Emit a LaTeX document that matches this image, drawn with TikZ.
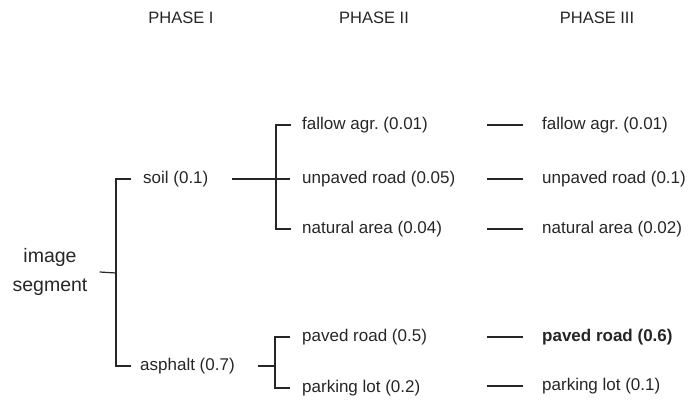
\documentclass[tikz,border=0pt]{standalone}
\usepackage{fontspec}
\setmainfont{Liberation Sans}
\usepackage{tikz}
\usetikzlibrary{positioning, calc}
\frenchspacing

\begin{document}
\begin{tikzpicture}[x=1pt, y=-1pt]
                \tikzstyle{lbl}=[anchor=west, inner sep=0pt, text=black!85, font=\fontsize{17}{20}\selectfont]
                \tikzstyle{head}=[inner sep=0pt, text=black!85, font=\fontsize{16.5}{18}\selectfont]
                \tikzstyle{conn}=[line width=1.2pt, black!85]
                \useasboundingbox (0,0) rectangle (691,403);
                
                % Headings
                \node[head] (ph1) at (181, 18) {PHASE I};
                \node[head] (ph2) at (374, 18) {PHASE II};
                \node[head] (ph3) at (597, 18) {PHASE III};
                
                % Root
                \node[lbl, anchor=center, align=center, font=\fontsize{19.5}{29}\selectfont] (seg) at (50, 272) {image\\segment};
                \coordinate (rj) at (116, 273);
                
                % Phase I
                \node[lbl] (soil) at (143, 179) {soil (0.1)};
                \node[lbl] (asph) at (140, 366) {asphalt (0.7)};
                
                % Phase II
                \foreach \y/\name/\txt in {125/fal2/fallow agr. (0.01), 179/unp2/unpaved road (0.05), 229/nat2/natural area (0.04), 337/pav2/paved road (0.5), 388/park2/parking lot (0.2)} {
                    \node[lbl] (\name) at (302, \y) {\txt};
                }
                
                % Phase III
                \foreach \y/\name/\txt in {125/fal3/fallow agr. (0.01), 179/unp3/unpaved road (0.1), 229/nat3/natural area (0.02), 337/pav3/\textbf{paved road (0.6)}, 386/park3/parking lot (0.1)} {
                    \node[lbl] (\name) at (542, \y) {\txt};
                }
                \coordinate (sj) at (276, 179);
                \coordinate (aj) at (275, 366);
                
                % Brackets
                \draw[conn] ([xshift=12pt]seg.east) -- (rj);
                \draw[conn] ([xshift=-12pt]soil.west) -| (rj) |- ([xshift=-9pt]asph.west);
                \draw[conn] ([xshift=23pt]soil.east) -- ([xshift=-12pt]unp2.west);
                \draw[conn] ([xshift=-11pt]fal2.west) -| (sj) |- ([xshift=-11pt]nat2.west);
                \draw[conn] ([xshift=23pt]asph.east) -- (aj);
                \draw[conn] ([xshift=-12pt]pav2.west) -| (aj) |- ([xshift=-12pt]park2.west);
                
                % Phase II to III
                \foreach \n in {fal3,unp3,nat3,pav3,park3} {
                    \draw[conn] ([xshift=-55pt]\n.west) -- ([xshift=-19pt]\n.west);
                }
            \end{tikzpicture}
\end{document}
